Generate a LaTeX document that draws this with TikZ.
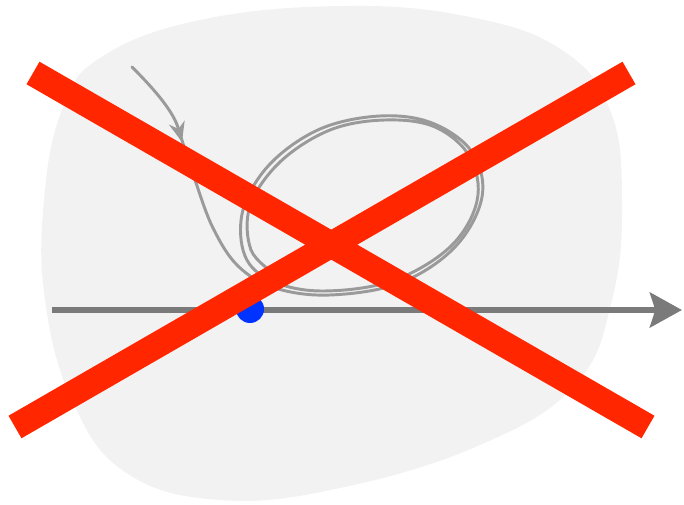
\documentclass[tikz,border=0pt]{standalone}
\usetikzlibrary{arrows.meta}
\definecolor{blobgray}{HTML}{F2F2F2}
\definecolor{axisgray}{HTML}{7A7A7A}
\definecolor{scribgray}{HTML}{9A9A9A}
\definecolor{dotblue}{HTML}{0033FF}
\definecolor{xred}{HTML}{FF2600}
\begin{document}
\begin{tikzpicture}[x=0.75pt,y=-0.75pt,
  scrib/.style={draw=scribgray,line width=2.2pt,line cap=round,line join=round},
  axisline/.style={draw=axisgray,line width=5pt,-{Stealth[length=24pt,width=26pt,inset=4pt]}},
  crossbar/.style={draw=xred,line width=19.5pt}]
\useasboundingbox (0,0) rectangle (684,505);
% background blob
\fill[blobgray] plot[smooth cycle,tension=0.7] coordinates {
 (100,58) (200,20) (345,6) (470,17) (562,50) (610,110) (622,200) (612,300)
 (575,385) (480,445) (340,488) (220,500) (125,472) (72,400) (45,300) (44,200) (62,110)};
% coordinates
\coordinate (axstart) at (52,310);
\coordinate (axend) at (682,310);
\coordinate (dot) at (250,309);
\coordinate (s0) at (132,67);
\coordinate (s1) at (182,142);
% axis
\draw[axisline] (axstart) -- (axend);
% scribble with arrow
\draw[scrib,-{Stealth[length=15pt,width=12pt]}] (s0) .. controls (155,90) and (174,112) .. (s1);
\draw[scrib] plot[smooth,tension=0.6] coordinates {
 (180,134) (195,180) (213,228) (238,266) (275,288) (330,295) (400,283) (455,247)
 (482,197) (472,152) (432,123) (380,116) (320,129) (270,164) (243,210) (245,256)
 (272,281) (322,291) (392,281) (450,247) (477,201) (470,157) (435,127) (385,120)
 (330,130) (280,162) (250,206) (251,250) (275,274)};
% blue dot
\fill[dotblue] (dot) circle[radius=14];
% red X
\coordinate (xa1) at (33,73);
\coordinate (xa2) at (648,427);
\coordinate (xb1) at (629,73);
\coordinate (xb2) at (15,427);
\draw[crossbar] (xa1) -- (xa2);
\draw[crossbar] (xb1) -- (xb2);
\end{tikzpicture}
\end{document}
